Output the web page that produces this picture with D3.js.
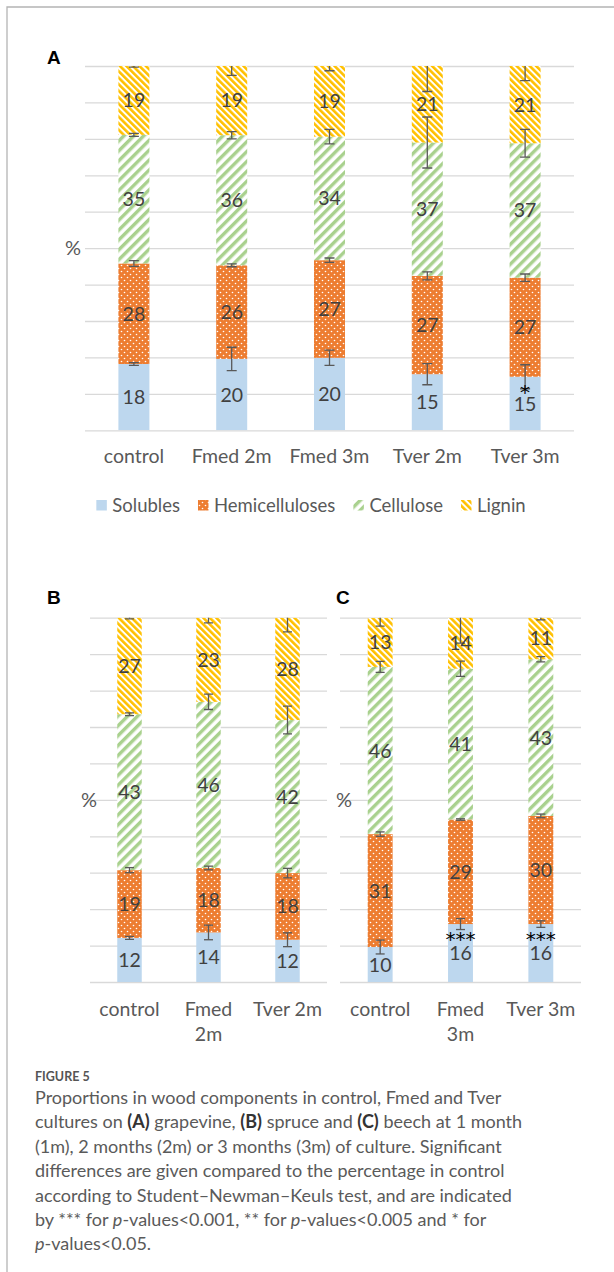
<!DOCTYPE html>
<html>
<head>
<meta charset="utf-8">
<script src="https://cdn.jsdelivr.net/npm/d3@7"></script>
<style>
  body { margin: 0; background: #fff; }
  svg { display: block; }
</style>
</head>
<body>
<div id="chartContainer"></div>
<script>
const seriesNames = ["Solubles", "Hemicelluloses", "Cellulose", "Lignin"];

// A : grapevine
const categoriesA = ["control", "Fmed 2m", "Fmed 3m", "Tver 2m", "Tver 3m"];
const solublesA = [18.2, 19.6, 19.9, 15.4, 14.7];
const hemiA = [27.6, 25.7, 26.8, 27.0, 27.2];
const celluloseA = [35.3, 35.7, 33.9, 36.6, 36.9];
const ligninA = [18.9, 19.1, 19.4, 21.0, 21.2];
const solublesErrA = [0.4, 3.2, 2.1, 2.9, 3.3];
const hemiErrA = [0.8, 0.4, 0.6, 1.1, 1.0];
const celluloseErrA = [0.4, 1.0, 2.0, 7.0, 3.8];
const ligninErrA = [0.3, 2.7, 1.3, 7.0, 4.0];
const signifA = ["", "", "", "", "*"];

// B : spruce
const categoriesB = ["control", "Fmed\n2m", "Tver 2m"];
const solublesB = [12.1, 13.6, 11.6];
const hemiB = [18.6, 17.7, 18.3];
const celluloseB = [42.8, 45.6, 42.0];
const ligninB = [26.5, 23.1, 28.1];
const solublesErrB = [0.4, 2.0, 1.9];
const hemiErrB = [0.7, 0.5, 1.3];
const celluloseErrB = [0.4, 2.1, 3.8];
const ligninErrB = [0.3, 1.4, 3.9];
const signifB = ["", "", ""];

// C : beech
const categoriesC = ["control", "Fmed\n3m", "Tver 3m"];
const solublesC = [9.6, 15.9, 15.9];
const hemiC = [31.0, 28.7, 29.7];
const celluloseC = [45.9, 41.4, 43.0];
const ligninC = [13.4, 14.0, 11.4];
const solublesErrC = [1.9, 1.5, 0.9];
const hemiErrC = [0.6, 0.2, 0.5];
const celluloseErrC = [1.5, 2.1, 0.7];
const ligninErrC = [2.2, 7.0, 0.6];
const signifC = ["", "***", "***"];

const yTicks = [0, 10, 20, 30, 40, 50, 60, 70, 80, 90, 100];

const captionLines = [
    [["Proportions in wood components in control, Fmed and Tver", ""]],
    [["cultures on ", ""], ["(A)", "b"], [" grapevine, ", ""], ["(B)", "b"], [" spruce and ", ""], ["(C)", "b"], [" beech at 1 month", ""]],
    [["(1m), 2 months (2m) or 3 months (3m) of culture. Significant", ""]],
    [["differences are given compared to the percentage in control", ""]],
    [["according to Student\u2013Newman\u2013Keuls test, and are indicated", ""]],
    [["by *** for ", ""], ["p", "i"], ["-values<0.001, ** for ", ""], ["p", "i"], ["-values<0.005 and * for", ""]],
    [["p", "i"], ["-values<0.05.", ""]],
];

const font = "Lato, 'Open Sans', sans-serif";
const colors = {
    Solubles: "#bdd7ee",
    Hemicelluloses: "url(#hemiPattern)",
    Cellulose: "url(#cellPattern)",
    Lignin: "url(#ligninPattern)",
};

const svg = d3.select("#chartContainer")
    .append("svg")
    .attr("width", 614)
    .attr("height", 1272)
    .style("font-family", font);

svg.append("rect").attr("width", 614).attr("height", 1272).attr("fill", "#fff");

const defs = svg.append("defs");

// dotted orange
const hemi = defs.append("pattern")
    .attr("id", "hemiPattern")
    .attr("patternUnits", "userSpaceOnUse")
    .attr("width", 6).attr("height", 6);
hemi.append("rect").attr("width", 6).attr("height", 6).attr("fill", "#ed7d31");
hemi.append("circle").attr("cx", 1.5).attr("cy", 1.5).attr("r", 0.8).attr("fill", "#fff");
hemi.append("circle").attr("cx", 4.5).attr("cy", 4.5).attr("r", 0.8).attr("fill", "#fff");

// wide upward diagonal green
const cell = defs.append("pattern")
    .attr("id", "cellPattern")
    .attr("patternUnits", "userSpaceOnUse")
    .attr("width", 7).attr("height", 7)
    .attr("patternTransform", "rotate(45)");
cell.append("rect").attr("width", 7).attr("height", 7).attr("fill", "#fff");
cell.append("rect").attr("width", 3.4).attr("height", 7).attr("fill", "#a9d18e");

// narrow downward diagonal gold
const lig = defs.append("pattern")
    .attr("id", "ligninPattern")
    .attr("patternUnits", "userSpaceOnUse")
    .attr("width", 4.6).attr("height", 4.6)
    .attr("patternTransform", "rotate(-45)");
lig.append("rect").attr("width", 4.6).attr("height", 4.6).attr("fill", "#fff");
lig.append("rect").attr("width", 2.6).attr("height", 4.6).attr("fill", "#ffc000");

// frame
svg.append("path")
    .attr("d", "M7,1272V7H614")
    .attr("fill", "none")
    .attr("stroke", "#b4b4b4")
    .attr("stroke-width", 1.3);

function drawPanel(p) {
    const rows = p.categories.map((c, i) => ({
        cat: c,
        Solubles: p.solubles[i],
        Hemicelluloses: p.hemi[i],
        Cellulose: p.cellulose[i],
        Lignin: p.lignin[i],
        idx: i,
    }));
    const errs = {
        Solubles: p.solublesErr,
        Hemicelluloses: p.hemiErr,
        Cellulose: p.celluloseErr,
        Lignin: p.ligninErr,
    };

    const xScale = d3.scaleBand()
        .domain(p.categories)
        .range([p.left, p.right])
        .paddingInner(p.padding)
        .paddingOuter(p.padding / 2);

    const yScale = d3.scaleLinear()
        .domain([0, 100])
        .range([p.bottom, p.top]);

    const g = svg.append("g").attr("class", "panel");

    g.append("defs").append("clipPath")
        .attr("id", "clip" + p.name)
        .append("rect")
        .attr("x", p.left)
        .attr("y", p.top)
        .attr("width", p.right - p.left)
        .attr("height", p.bottom - p.top);

    // gridlines
    const grid = g.append("g")
        .attr("transform", `translate(${p.left},0)`)
        .call(d3.axisLeft(yScale).tickValues(yTicks).tickSize(-(p.right - p.left)).tickFormat(""));
    grid.select(".domain").remove();
    grid.selectAll(".tick line").attr("stroke", "#d9d9d9").attr("stroke-width", 1.3);

    // category axis
    const xAxis = g.append("g")
        .attr("transform", `translate(0,${p.bottom})`)
        .call(d3.axisBottom(xScale).tickSize(0).tickPadding(0));
    xAxis.select(".domain").remove();
    xAxis.selectAll(".tick text")
        .attr("fill", "#595959")
        .attr("font-size", 19.5)
        .attr("font-family", font)
        .attr("y", p.catY)
        .attr("dy", 0)
        .each(function(d) {
            const t = d3.select(this);
            const parts = d.split("\n");
            t.text(null);
            parts.forEach((s, k) => {
                t.append("tspan").attr("x", 0).attr("dy", k === 0 ? 0 : 25).text(s);
            });
        });

    // stacked bars
    const stacked = d3.stack().keys(seriesNames)(rows);

    const bars = g.append("g").attr("clip-path", `url(#clip${p.name})`);
    bars.selectAll("g")
        .data(stacked)
        .enter().append("g")
        .attr("fill", (s) => colors[s.key])
        .selectAll("rect")
        .data((s) => s)
        .enter().append("rect")
        .attr("x", (d) => xScale(d.data.cat))
        .attr("width", xScale.bandwidth())
        .attr("y", (d) => yScale(d[1]))
        .attr("height", (d) => yScale(d[0]) - yScale(d[1]));

    // error bars
    const capW = p.capWidth;
    stacked.forEach((s) => {
        s.forEach((d) => {
            const cx = xScale(d.data.cat) + xScale.bandwidth() / 2;
            const e = errs[s.key][d.data.idx];
            const y1 = yScale(d[1] + e);
            const y2 = yScale(d[1] - e);
            const eb = bars.append("g")
                .attr("stroke", "#595959")
                .attr("stroke-width", 1.3)
                .attr("fill", "none");
            eb.append("line").attr("x1", cx).attr("x2", cx).attr("y1", y1).attr("y2", y2);
            eb.append("line").attr("x1", cx - capW / 2).attr("x2", cx + capW / 2).attr("y1", y1).attr("y2", y1);
            eb.append("line").attr("x1", cx - capW / 2).attr("x2", cx + capW / 2).attr("y1", y2).attr("y2", y2);
        });
    });

    // value labels
    stacked.forEach((s) => {
        g.append("g").selectAll("text")
            .data(s)
            .enter().append("text")
            .attr("x", (d) => xScale(d.data.cat) + xScale.bandwidth() / 2)
            .attr("y", (d) => (yScale(d[0]) + yScale(d[1])) / 2)
            .attr("dy", "0.36em")
            .attr("text-anchor", "middle")
            .attr("font-size", 19.5)
            .attr("fill", "#404040")
            .text((d) => Math.round(d.data[s.key]));
    });

    // significance marks under the solubles top
    g.append("g").selectAll("text")
        .data(rows.filter((r) => p.signif[r.idx] !== ""))
        .enter().append("text")
        .attr("x", (d) => xScale(d.cat) + xScale.bandwidth() / 2)
        .attr("y", (d) => yScale(d.Solubles) + 22)
        .attr("text-anchor", "middle")
        .attr("font-family", "'DejaVu Sans', sans-serif")
        .attr("font-size", 20)
        .attr("fill", "#000")
        .text((d) => p.signif[d.idx]);

    // % axis title
    g.append("text")
        .attr("x", p.pctX)
        .attr("y", yScale(50))
        .attr("dy", "0.36em")
        .attr("text-anchor", "middle")
        .attr("font-size", 20)
        .attr("fill", "#595959")
        .text("%");

    // panel letter
    g.append("text")
        .attr("x", p.letterX)
        .attr("y", p.letterY)
        .attr("font-family", "'Liberation Sans', Arial, sans-serif")
        .attr("font-weight", "bold")
        .attr("font-size", 19)
        .attr("fill", "#000")
        .text(p.name);
}

drawPanel({
    name: "A", categories: categoriesA,
    solubles: solublesA, hemi: hemiA, cellulose: celluloseA, lignin: ligninA,
    solublesErr: solublesErrA, hemiErr: hemiErrA, celluloseErr: celluloseErrA, ligninErr: ligninErrA,
    signif: signifA,
    left: 85, right: 574, top: 66, bottom: 430.3, padding: 0.683, capWidth: 10,
    catY: 33, pctX: 73, letterX: 47, letterY: 63.5,
});

drawPanel({
    name: "B", categories: categoriesB,
    solubles: solublesB, hemi: hemiB, cellulose: celluloseB, lignin: ligninB,
    solublesErr: solublesErrB, hemiErr: hemiErrB, celluloseErr: celluloseErrB, ligninErr: ligninErrB,
    signif: signifB,
    left: 90, right: 327, top: 617.7, bottom: 982, padding: 0.69, capWidth: 9,
    catY: 34, pctX: 89, letterX: 47, letterY: 603.5,
});

drawPanel({
    name: "C", categories: categoriesC,
    solubles: solublesC, hemi: hemiC, cellulose: celluloseC, lignin: ligninC,
    solublesErr: solublesErrC, hemiErr: hemiErrC, celluloseErr: celluloseErrC, ligninErr: ligninErrC,
    signif: signifC,
    left: 340, right: 581, top: 617.7, bottom: 982, padding: 0.69, capWidth: 9,
    catY: 34, pctX: 344, letterX: 336, letterY: 603.5,
});

// legend for panel A
const legend = svg.append("g").attr("font-size", 18.5).attr("fill", "#595959");
const items = legend.selectAll("g")
    .data(seriesNames)
    .enter().append("g");
items.append("rect")
    .attr("width", 10.5).attr("height", 10.5)
    .attr("y", 500)
    .attr("fill", (d) => colors[d]);
items.append("text")
    .attr("x", 16)
    .attr("y", 505.5)
    .attr("dy", "0.36em")
    .text((d) => d);
let lx = 0;
const widths = [];
items.each(function() {
    widths.push(d3.select(this).select("text").node().getComputedTextLength());
});
const totalW = d3.sum(widths, (w) => w + 16) + 18 * (widths.length - 1);
lx = 311 - totalW / 2;
items.each(function(d, i) {
    d3.select(this).attr("transform", `translate(${lx},0)`);
    lx += widths[i] + 16 + 18;
});

// caption
svg.append("text")
    .attr("x", 35)
    .attr("y", 1081)
    .attr("font-size", 12.5)
    .attr("font-weight", "bold")
    .attr("fill", "#555")
    .text("FIGURE 5");

const caption = svg.append("g")
    .attr("font-size", 18)
    .attr("fill", "#5a5a5a");
captionLines.forEach((line, k) => {
    const t = caption.append("text")
        .attr("x", 35)
        .attr("y", 1104 + k * 24.4);
    line.forEach(([s, style]) => {
        const ts = t.append("tspan").text(s);
        if (style === "b") ts.attr("font-weight", "bold").attr("fill", "#333");
        if (style === "i") ts.attr("font-style", "italic");
    });
});
</script>
</body>
</html>
